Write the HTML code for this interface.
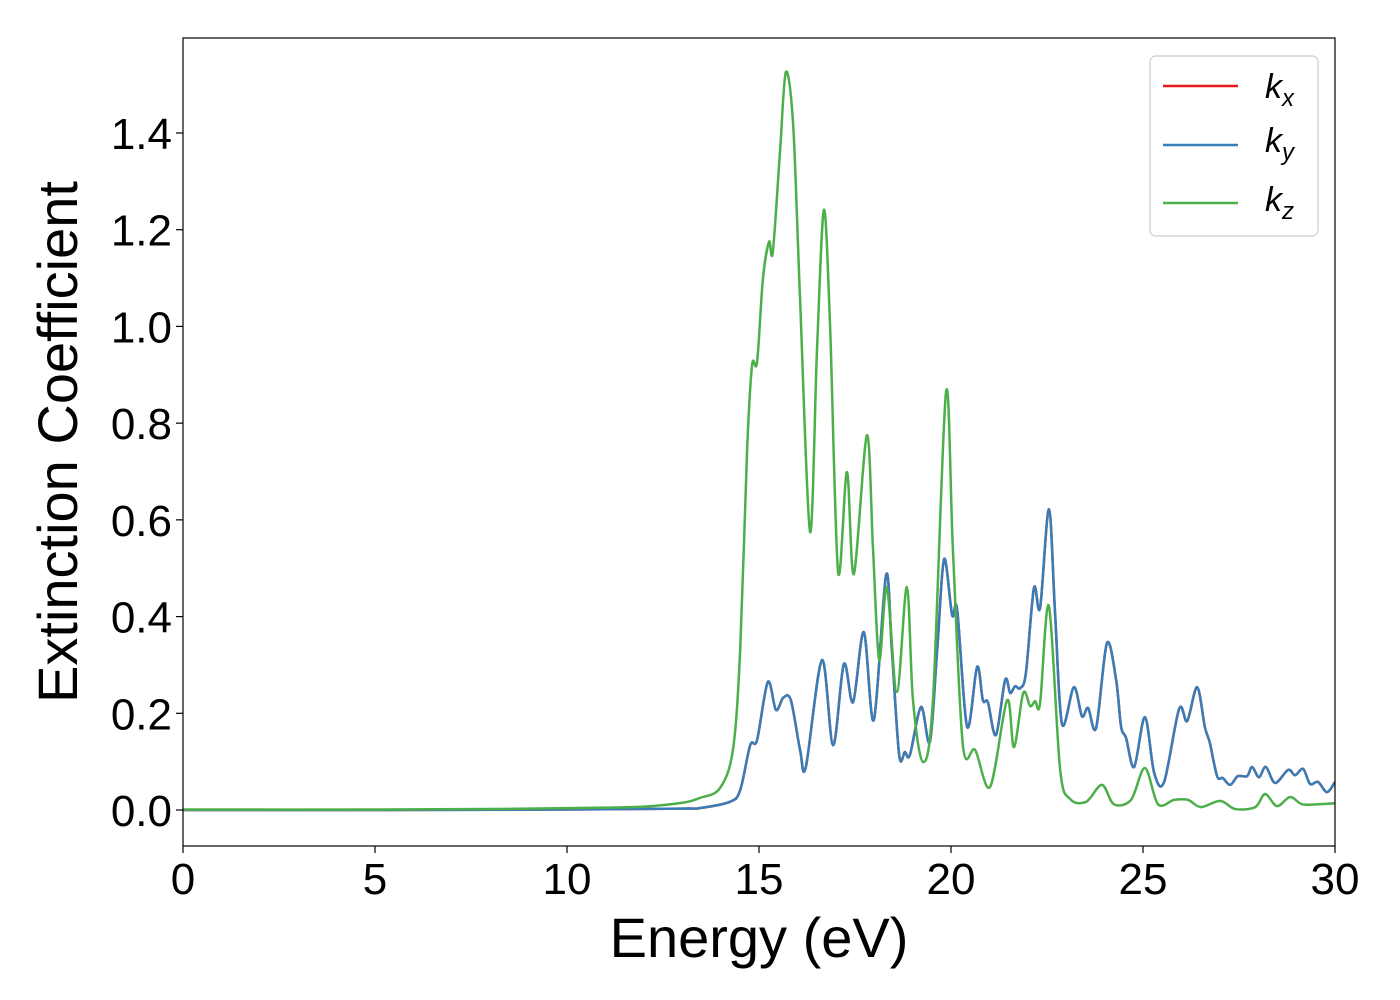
<!DOCTYPE html>
<html><head><meta charset="utf-8"><style>
html,body{margin:0;padding:0;background:#fff;}
svg{display:block;font-family:"Liberation Sans","DejaVu Sans",sans-serif;}
</style></head><body>
<svg id="chart" width="1400" height="1000" xmlns="http://www.w3.org/2000/svg">
<rect x="0" y="0" width="1400" height="1000" fill="#fff"/>
<g id="plot"></g>
<rect x="183" y="38" width="1152" height="808" fill="none" stroke="#000" stroke-width="1.2"/>
<g id="xticks"></g>
<g id="yticks"></g>
<text x="759" y="957" font-size="56" text-anchor="middle">Energy (eV)</text>
<text transform="translate(77,442) rotate(-90)" font-size="56" text-anchor="middle">Extinction Coefficient</text>
<g>
<rect x="1150" y="56" width="168" height="180" rx="6" fill="#fff" fill-opacity="0.8" stroke="#ccc" stroke-width="1.2"/>
<line x1="1163" y1="86" x2="1238" y2="86" stroke="#e41a1c" stroke-width="2.5"/>
<text x="1265" y="98" font-size="34" font-style="italic">k<tspan font-size="24" dy="8">x</tspan></text>
<line x1="1163" y1="145" x2="1238" y2="145" stroke="#377eb8" stroke-width="2.5"/>
<text x="1265" y="152" font-size="34" font-style="italic">k<tspan font-size="24" dy="8">y</tspan></text>
<line x1="1163" y1="203" x2="1238" y2="203" stroke="#4daf4a" stroke-width="2.5"/>
<text x="1265" y="211" font-size="34" font-style="italic">k<tspan font-size="24" dy="8">z</tspan></text>
</g>
</svg>
<script>
const xTicks = [0,5,10,15,20,25,30];
const yTicks = [0.0,0.2,0.4,0.6,0.8,1.0,1.2,1.4];
const energyXY = [0,5,10,13,13.46,14.24,14.51,14.77,14.95,15.23,15.44,15.63,15.83,16.07,16.22,16.64,16.93,17.21,17.45,17.73,17.99,18.31,18.46,18.65,18.80,18.93,19.22,19.45,19.64,19.82,20.03,20.16,20.42,20.68,20.83,20.96,21.17,21.41,21.54,21.67,21.80,21.95,22.16,22.32,22.55,22.71,22.89,23.20,23.41,23.57,23.78,24.06,24.30,24.43,24.56,24.77,25.05,25.29,25.55,25.94,26.15,26.41,26.61,26.74,26.93,27.08,27.27,27.47,27.71,27.84,28.02,28.20,28.44,28.78,28.96,29.17,29.35,29.56,29.79,30];
const kyValues = [0,0,0.001,0.003,0.004,0.017,0.041,0.134,0.145,0.265,0.207,0.232,0.227,0.124,0.089,0.310,0.134,0.302,0.223,0.368,0.186,0.486,0.331,0.114,0.120,0.114,0.213,0.141,0.331,0.519,0.403,0.414,0.172,0.296,0.227,0.223,0.155,0.269,0.242,0.256,0.252,0.283,0.459,0.418,0.622,0.407,0.178,0.254,0.194,0.211,0.170,0.345,0.269,0.172,0.149,0.089,0.192,0.077,0.058,0.209,0.184,0.254,0.172,0.139,0.070,0.066,0.052,0.070,0.070,0.089,0.068,0.089,0.056,0.083,0.072,0.085,0.054,0.058,0.037,0.058];
const kxValues = kyValues.slice();
const energyZ = [0,5,8,10,11,12,13,13.46,13.98,14.32,14.51,14.69,14.82,14.95,15.10,15.26,15.36,15.55,15.70,15.89,16.07,16.33,16.51,16.69,16.85,17.06,17.29,17.47,17.81,17.97,18.13,18.33,18.59,18.85,19.01,19.27,19.53,19.87,20.05,20.31,20.63,21.02,21.46,21.64,21.88,22.06,22.19,22.32,22.55,22.84,23.10,23.52,23.93,24.24,24.69,25.05,25.39,25.81,26.17,26.51,27.01,27.40,27.92,28.18,28.49,28.83,29.14,29.58,30];
const kzValues = [0.001,0.001,0.002,0.004,0.005,0.007,0.015,0.025,0.045,0.124,0.331,0.744,0.920,0.926,1.096,1.175,1.154,1.365,1.526,1.416,1.055,0.575,0.951,1.241,1.003,0.492,0.699,0.488,0.775,0.538,0.310,0.461,0.244,0.461,0.227,0.099,0.227,0.864,0.538,0.134,0.124,0.048,0.227,0.130,0.242,0.215,0.225,0.221,0.422,0.085,0.023,0.017,0.052,0.012,0.021,0.087,0.012,0.021,0.021,0.006,0.019,0.002,0.006,0.033,0.008,0.027,0.012,0.012,0.014];

const X0=183, X1=1335, Y0=38, Y1=846;
const xMin=0, xMax=30, yMin=-0.0744, yMax=1.5964;
function sx(v){return X0+(v-xMin)/(xMax-xMin)*(X1-X0);}
function sy(v){return Y1-(v-yMin)/(yMax-yMin)*(Y1-Y0);}
const NS="http://www.w3.org/2000/svg";
function mk(tag){return document.createElementNS(NS,tag);}
function smoothPath(xs,ys){
  const p=xs.map((x,i)=>[sx(x),sy(ys[i])]);
  let d="M"+p[0][0].toFixed(2)+","+p[0][1].toFixed(2);
  for(let i=0;i<p.length-1;i++){
    const a=p[Math.max(0,i-1)],b=p[i],c=p[i+1],e=p[Math.min(p.length-1,i+2)];
    const t=0.16;
    const c1=[b[0]+(c[0]-a[0])*t,b[1]+(c[1]-a[1])*t];
    const c2=[c[0]-(e[0]-b[0])*t,c[1]-(e[1]-b[1])*t];
    d+="C"+c1[0].toFixed(2)+","+c1[1].toFixed(2)+" "+c2[0].toFixed(2)+","+c2[1].toFixed(2)+" "+c[0].toFixed(2)+","+c[1].toFixed(2);
  }
  return d;
}
const plot=document.getElementById('plot');
const clip=mk('clipPath');clip.setAttribute('id','clip');
const cr=mk('rect');cr.setAttribute('x',X0);cr.setAttribute('y',Y0);cr.setAttribute('width',X1-X0);cr.setAttribute('height',Y1-Y0);
clip.appendChild(cr);plot.appendChild(clip);
function addLine(xs,ys,color,name){
  const p=mk('path');
  p.setAttribute('d',smoothPath(xs,ys));
  p.setAttribute('fill','none');p.setAttribute('stroke',color);p.setAttribute('stroke-width','2.5');
  p.setAttribute('stroke-linejoin','round');p.setAttribute('clip-path','url(#clip)');
  
  
  plot.appendChild(p);
}
addLine(energyXY,kxValues,'#e41a1c','kx-line');
addLine(energyXY,kyValues,'#377eb8','ky-line');
addLine(energyZ,kzValues,'#4daf4a','kz-line');

const xg=document.getElementById('xticks');
xTicks.forEach(v=>{
  const l=mk('line');l.setAttribute('x1',sx(v));l.setAttribute('x2',sx(v));l.setAttribute('y1',Y1);l.setAttribute('y2',Y1+7);l.setAttribute('stroke','#000');l.setAttribute('stroke-width','1.2');
  
  
  xg.appendChild(l);
  const t=mk('text');t.setAttribute('x',sx(v));t.setAttribute('y',894);t.setAttribute('font-size','44');t.setAttribute('text-anchor','middle');t.textContent=String(v);
  
  
  xg.appendChild(t);
});
const yg=document.getElementById('yticks');
yTicks.forEach(v=>{
  const l=mk('line');l.setAttribute('x1',X0-7);l.setAttribute('x2',X0);l.setAttribute('y1',sy(v));l.setAttribute('y2',sy(v));l.setAttribute('stroke','#000');l.setAttribute('stroke-width','1.2');
  
  
  yg.appendChild(l);
  const t=mk('text');t.setAttribute('x',172);t.setAttribute('y',sy(v)+16);t.setAttribute('font-size','44');t.setAttribute('text-anchor','end');t.textContent=v.toFixed(1);
  
  
  yg.appendChild(t);
});
</script>
</body></html>
